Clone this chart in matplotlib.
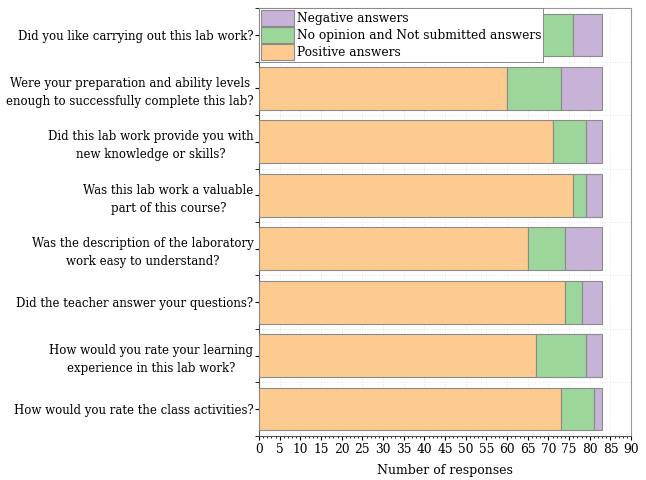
import matplotlib
matplotlib.use("Agg")
import matplotlib.pyplot as plt
import numpy as np

questions = [
    "Did you like carrying out this lab work?",
    "Were your preparation and ability levels\nenough to successfully complete this lab?",
    "Did this lab work provide you with\nnew knowledge or skills?",
    "Was this lab work a valuable\npart of this course?",
    "Was the description of the laboratory\nwork easy to understand?",
    "Did the teacher answer your questions?",
    "How would you rate your learning\nexperience in this lab work?",
    "How would you rate the class activities?",
]
positive = [68, 60, 71, 76, 65, 74, 67, 73]
no_opinion = [8, 13, 8, 3, 9, 4, 12, 8]
negative = [7, 10, 4, 4, 9, 5, 4, 2]

plt.rcParams['font.family'] = ['DejaVu Serif']
fig = plt.figure(figsize=(6.46, 4.8), dpi=100)
ax = fig.add_axes([0.401, 0.092, 0.576, 0.891])

y = np.arange(len(questions))
pos = np.array(positive)
noo = np.array(no_opinion)
neg = np.array(negative)
c_pos = "#FDCB8F"
c_no = "#9DD69B"
c_neg = "#C6B3D7"
ec = "#8a8a8a"
h = 0.8
b1 = ax.barh(y, pos, height=h, color=c_pos, edgecolor=ec, linewidth=0.8, label="Positive answers", zorder=3)
b2 = ax.barh(y, noo, left=pos, height=h, color=c_no, edgecolor=ec, linewidth=0.8, label="No opinion and Not submitted answers", zorder=3)
b3 = ax.barh(y, neg, left=pos + noo, height=h, color=c_neg, edgecolor=ec, linewidth=0.8, label="Negative answers", zorder=3)

ax.set_xlim(0, 90)
ax.set_ylim(7.5, -0.5)
ax.set_xticks(np.arange(0, 91, 5))
ax.set_xticks(np.arange(0, 91, 1), minor=True)
ax.set_yticks(y)
ax.set_yticklabels(questions, fontsize=8.5, ha="right", multialignment="center", linespacing=1.5)
ax.set_yticks(np.arange(-0.5, 8, 1), minor=True)
ax.tick_params(axis="x", labelsize=8.8, length=3, pad=2)
ax.tick_params(axis="x", which="minor", length=1.5)
ax.tick_params(axis="y", which="both", length=3, pad=1)
ax.set_xlabel("Number of responses", fontsize=9, labelpad=6)
ax.grid(True, axis="x", which="major", color="#e6e6e6", linestyle=":", linewidth=0.7, zorder=0)
ax.grid(True, axis="y", which="minor", color="#e6e6e6", linestyle=":", linewidth=0.7, zorder=0)
for s in ax.spines.values():
    s.set_color("#555555")
    s.set_linewidth(0.8)
ax.spines["right"].set_color("#999999")
ax.spines["top"].set_color("#999999")

leg = ax.legend(handles=[b3, b2, b1], loc="upper left", fontsize=8.8, frameon=True,
                fancybox=False, edgecolor="#888888", framealpha=1,
                handlelength=2.7, handleheight=1.6, handletextpad=0.25,
                borderpad=0.15, labelspacing=0.12, borderaxespad=0.0)
leg.get_frame().set_linewidth(0.7)

fig.savefig("out.png", dpi=100)
